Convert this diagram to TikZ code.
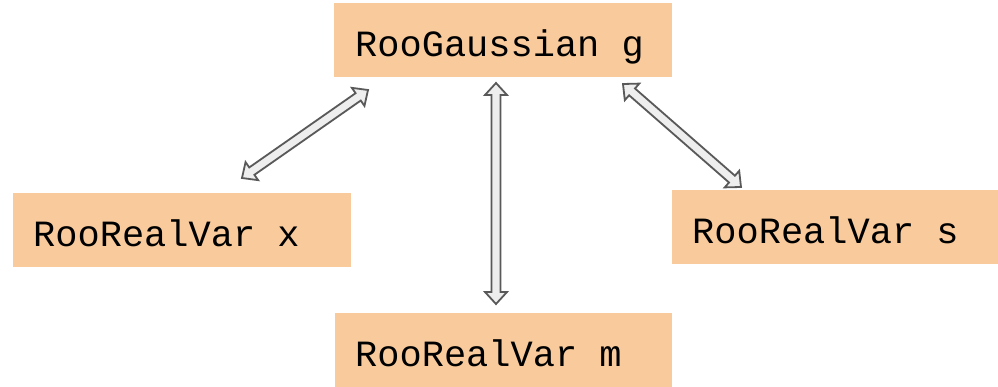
\documentclass[tikz,border=0pt]{standalone}
\usepackage{fontspec}
\setmonofont{Liberation Mono}
\usetikzlibrary{calc}
\definecolor{boxfill}{RGB}{249,203,156}
\definecolor{arrowfill}{RGB}{238,238,238}
\definecolor{arrowline}{RGB}{89,89,89}
% one fixed-width blank of the mono font
\newcommand\monoblank{\hspace*{0.6em}}
\tikzset{
  varbox/.style={rectangle, fill=boxfill, draw=none, anchor=north west,
    inner ysep=0pt, text height=53pt, text depth=21pt, align=left,
    font=\ttfamily\fontsize{37}{37}\selectfont},
  blockarrow/.style={draw=arrowline, fill=arrowfill, line width=1.8pt, line join=miter}
}
% double-headed block arrow between two named coordinates
\newcommand\dblblock[2]{%
  \path ($(#1)!12pt!(#2)$) coordinate (h1) ($(#2)!12pt!(#1)$) coordinate (h2);
  \draw[blockarrow] (#1) -- ($(h1)!11pt!90:(#2)$) -- ($(h1)!4.5pt!90:(#2)$)
    -- ($(h2)!4.5pt!-90:(#1)$) -- ($(h2)!11pt!-90:(#1)$) -- (#2)
    -- ($(h2)!11pt!90:(#1)$) -- ($(h2)!4.5pt!90:(#1)$)
    -- ($(h1)!4.5pt!-90:(#2)$) -- ($(h1)!11pt!-90:(#2)$) -- cycle;}
\begin{document}
\begin{tikzpicture}[x=1pt, y=-1pt]
  \useasboundingbox (0,0) rectangle (998,387);
  \node[varbox, inner xsep=21pt, text width=296pt] (g) at (334,3) {RooGaussian\monoblank g};
  \node[varbox, inner xsep=20pt, text width=298pt] (x) at (13,193) {RooRealVar\monoblank x};
  \node[varbox, inner xsep=20pt, text width=286pt] (s) at (672,190) {RooRealVar\monoblank s};
  \node[varbox, inner xsep=20pt, text width=297pt] (m) at (335,313) {RooRealVar\monoblank m};

  \coordinate (gx) at (368,90);
  \coordinate (xg) at (242,178);
  \coordinate (gm) at (496,83);
  \coordinate (mg) at (496,304);
  \coordinate (gs) at (623,84);
  \coordinate (sg) at (741,187);

  \dblblock{gx}{xg}
  \dblblock{gm}{mg}
  \dblblock{gs}{sg}
\end{tikzpicture}
\end{document}
